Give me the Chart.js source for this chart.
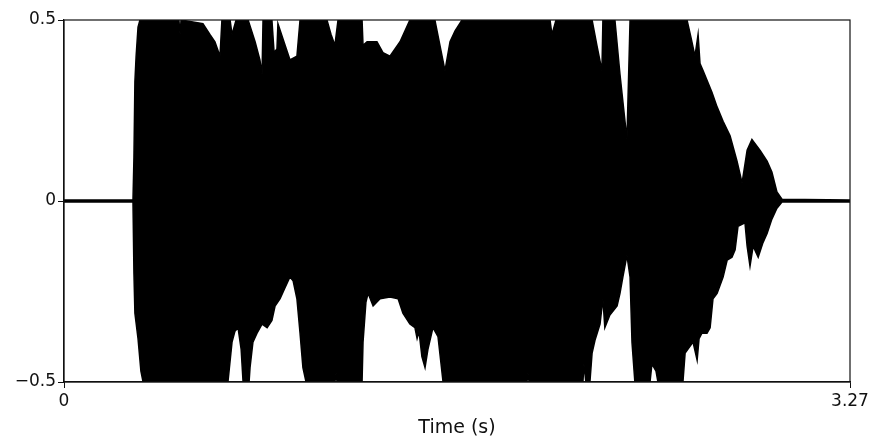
<!DOCTYPE html>
<html>
<head>
<meta charset="utf-8">
<script src="https://cdn.jsdelivr.net/npm/chart.js@4.4.1/dist/chart.umd.min.js"></script>
<style>
html,body{margin:0;padding:0;background:#fff;}
#wrap{width:873px;height:441px;position:relative;}
</style>
</head>
<body>
<div id="wrap"><canvas id="c" width="873" height="441"></canvas></div>
<script>
// Upper envelope of the waveform (time in seconds, amplitude)
const upperTime = [0, 0.287, 0.291, 0.295, 0.300, 0.308, 0.316, 0.478, 0.483, 0.487, 0.578, 0.607, 0.628, 0.649, 0.657, 0.691, 0.699, 0.716, 0.766, 0.795, 0.815, 0.824, 0.828, 0.865, 0.874, 0.886, 0.890, 0.915, 0.940, 0.969, 0.982, 1.094, 1.111, 1.127, 1.140, 1.240, 1.244, 1.261, 1.302, 1.327, 1.356, 1.398, 1.439, 1.543, 1.564, 1.585, 1.606, 1.627, 1.656, 2.022, 2.030, 2.047, 2.197, 2.217, 2.238, 2.242, 2.292, 2.313, 2.342, 2.355, 2.592, 2.609, 2.625, 2.638, 2.646, 2.659, 2.696, 2.717, 2.742, 2.771, 2.800, 2.821, 2.842, 2.862, 2.896, 2.925, 2.945, 2.966, 2.987, 3.27];
const upperValue = [0.003, 0.003, 0.12, 0.33, 0.40, 0.48, 0.5, 0.5, 0.46, 0.5, 0.49, 0.46, 0.44, 0.40, 0.5, 0.5, 0.46, 0.5, 0.5, 0.44, 0.39, 0.35, 0.5, 0.5, 0.41, 0.42, 0.49, 0.44, 0.39, 0.40, 0.5, 0.5, 0.46, 0.43, 0.5, 0.5, 0.43, 0.44, 0.44, 0.41, 0.40, 0.44, 0.5, 0.5, 0.43, 0.36, 0.44, 0.47, 0.5, 0.5, 0.46, 0.5, 0.5, 0.43, 0.36, 0.5, 0.5, 0.35, 0.17, 0.5, 0.5, 0.45, 0.40, 0.46, 0.38, 0.36, 0.30, 0.26, 0.22, 0.18, 0.11, 0.05, 0.14, 0.17, 0.14, 0.11, 0.08, 0.025, 0.005, 0.003];

// Lower envelope of the waveform
const lowerTime = [0, 0.287, 0.291, 0.295, 0.308, 0.320, 0.329, 0.682, 0.699, 0.711, 0.724, 0.737, 0.745, 0.770, 0.774, 0.786, 0.803, 0.824, 0.845, 0.865, 0.878, 0.899, 0.919, 0.940, 0.953, 0.969, 0.982, 0.994, 1.007, 1.127, 1.132, 1.136, 1.240, 1.244, 1.256, 1.265, 1.286, 1.315, 1.356, 1.390, 1.410, 1.439, 1.460, 1.469, 1.477, 1.489, 1.502, 1.514, 1.535, 1.556, 1.577, 1.926, 1.930, 1.935, 2.159, 2.163, 2.171, 2.188, 2.197, 2.209, 2.230, 2.242, 2.250, 2.271, 2.301, 2.313, 2.325, 2.342, 2.355, 2.363, 2.375, 2.438, 2.446, 2.463, 2.471, 2.575, 2.584, 2.617, 2.634, 2.642, 2.654, 2.675, 2.688, 2.700, 2.717, 2.742, 2.759, 2.779, 2.792, 2.804, 2.833, 2.842, 2.854, 2.867, 2.888, 2.908, 2.925, 2.945, 2.966, 2.987, 3.27];
const lowerValue = [-0.003, -0.003, -0.20, -0.31, -0.38, -0.47, -0.5, -0.5, -0.39, -0.36, -0.35, -0.41, -0.5, -0.5, -0.46, -0.39, -0.365, -0.34, -0.35, -0.33, -0.29, -0.27, -0.24, -0.21, -0.22, -0.27, -0.365, -0.46, -0.5, -0.5, -0.475, -0.5, -0.5, -0.39, -0.28, -0.255, -0.29, -0.27, -0.265, -0.27, -0.31, -0.34, -0.35, -0.38, -0.36, -0.43, -0.46, -0.41, -0.35, -0.375, -0.5, -0.5, -0.475, -0.5, -0.5, -0.45, -0.5, -0.5, -0.42, -0.385, -0.34, -0.27, -0.35, -0.315, -0.29, -0.255, -0.21, -0.15, -0.21, -0.39, -0.5, -0.5, -0.45, -0.47, -0.5, -0.5, -0.42, -0.39, -0.44, -0.38, -0.365, -0.365, -0.35, -0.27, -0.255, -0.21, -0.163, -0.155, -0.135, -0.07, -0.06, -0.125, -0.18, -0.125, -0.155, -0.115, -0.09, -0.05, -0.02, -0.003, -0.003];

// Tick labels
const xTicks = [0, 3.27];
const xTickLabels = ["0", "3.27"];
const yTicks = [-0.5, 0, 0.5];
const yTickLabels = ["\u22120.5", "0", "0.5"];
const xTitle = "Time (s)";

const upperData = upperTime.map((t, i) => ({x: t, y: upperValue[i]}));
const lowerData = lowerTime.map((t, i) => ({x: t, y: lowerValue[i]}));

const boxPlugin = {
  id: 'box',
  afterDatasetsDraw(chart) {
    const a = chart.chartArea, ctx = chart.ctx;
    ctx.save();
    ctx.strokeStyle = '#111';
    ctx.lineWidth = 1.2;
    ctx.strokeRect(a.left, a.top, a.right - a.left, a.bottom - a.top);
    ctx.restore();
  }
};

new Chart(document.getElementById('c'), {
  type: 'line',
  data: {
    datasets: [
      {data: upperData, borderColor: '#000', backgroundColor: '#000', borderWidth: 1.5, pointRadius: 0, fill: '+1', tension: 0},
      {data: lowerData, borderColor: '#000', backgroundColor: '#000', borderWidth: 1.5, pointRadius: 0, fill: false, tension: 0}
    ]
  },
  options: {
    responsive: false,
    animation: false,
    events: [],
    layout: {padding: {left: 0, top: 20, right: 23, bottom: 0}},
    plugins: {legend: {display: false}, tooltip: {enabled: false}},
    scales: {
      x: {
        type: 'linear', min: 0, max: 3.27,
        afterFit(s) { s.height = 59; },
        afterBuildTicks(s) { s.ticks = xTicks.map(v => ({value: v})); },
        grid: {display: true, drawOnChartArea: false, drawTicks: true, tickLength: 6, tickColor: '#111', color: '#111'},
        border: {display: true, color: '#111', width: 1.2},
        ticks: {color: '#111', font: {family: 'DejaVu Sans', size: 17}, padding: 3, maxRotation: 0,
          callback: (v, i) => xTickLabels[i]},
        title: {display: true, text: xTitle, color: '#111', font: {family: 'DejaVu Sans', size: 19}, padding: {top: 0, bottom: 2}}
      },
      y: {
        type: 'linear', min: -0.5, max: 0.5,
        afterFit(s) { s.width = 64; },
        afterBuildTicks(s) { s.ticks = yTicks.map(v => ({value: v})); },
        grid: {display: true, drawOnChartArea: false, drawTicks: true, tickLength: 6, tickColor: '#111', color: '#111'},
        border: {display: true, color: '#111', width: 1.2},
        ticks: {color: '#111', font: {family: 'DejaVu Sans', size: 17}, padding: 2,
          callback: (v, i) => yTickLabels[i]}
      }
    }
  },
  plugins: [boxPlugin]
});
</script>
</body>
</html>
